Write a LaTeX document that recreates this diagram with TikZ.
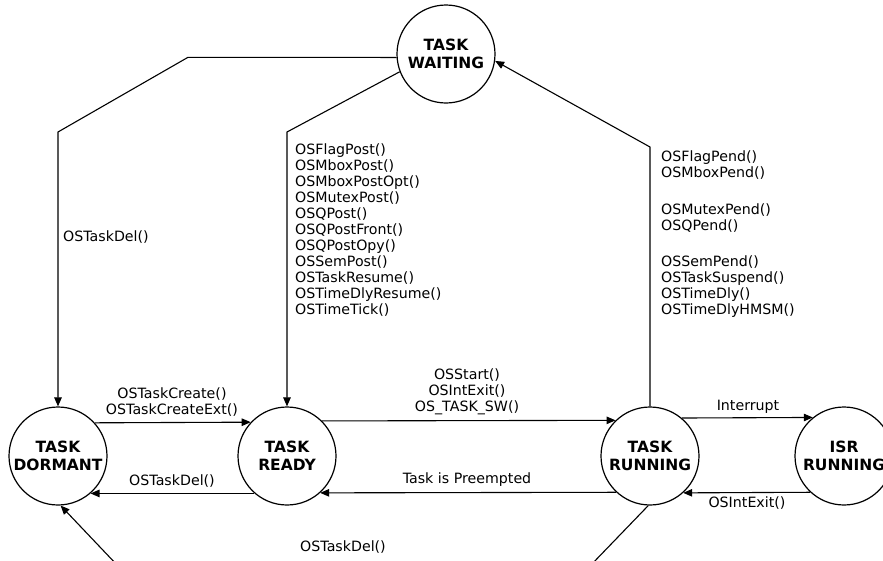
\documentclass[tikz,border=0pt]{standalone}
\usepackage{fontspec}
\setmainfont{DejaVu Sans}
\usetikzlibrary{arrows.meta}
\begin{document}
\begin{tikzpicture}[x=1pt,y=-1pt,
  state/.style={draw, circle, line width=1.2pt, minimum size=98pt, inner sep=0pt,
    align=center, font=\fontsize{15.5}{18}\selectfont\bfseries},
  arr/.style={line width=1.1pt, -{Triangle[length=9pt,width=7.5pt]}},
  lbl/.style={font=\fontsize{14.2}{16}\selectfont, inner sep=1pt},
  lst/.style={lbl, align=left, anchor=north west}]
\useasboundingbox (0,0) rectangle (883,560);
\clip (0,0) rectangle (883,560);
\fill[white] (0,0) rectangle (883,560);

% states
\node[state] (waiting) at (446,54) {TASK\\WAITING};
\node[state] (dormant) at (58,456) {TASK\\DORMANT};
\node[state] (ready)   at (287,456) {TASK\\READY};
\node[state] (running) at (650,456) {TASK\\RUNNING};
\node[state] (isr)     at (844,456) {ISR\\RUNNING};

% bends of the routed connectors
\coordinate (k1) at (188,57.3);
\coordinate (k2) at (58,132);
\coordinate (k3) at (287,132);
\coordinate (k4) at (650,147);
\coordinate (k5) at (590,566);
\coordinate (k6) at (118,566);

% waiting -> dormant / ready, running -> waiting
\draw[arr] (waiting.184) -- (k1) -- (k2) -- (dormant.north);
\draw[arr] (waiting.201) -- (k3) -- (ready.north);
\draw[arr] (running.north) -- (k4) -- (waiting.352);

% transitions along the bottom row
\draw[arr] (dormant.42.3) -- (ready.137.7);
\draw[arr] (ready.229) -- (dormant.311);
\draw[arr] (ready.45.6) -- (running.134.4);
\draw[arr] (running.227.3) -- (ready.312.7);
\draw[arr] (running.50.8) -- (isr.129.2);
\draw[arr] (isr.227.3) -- (running.312.7);
\draw[arr] (running.268) -- (k5) -- (k6) -- (dormant.273);

% labels
\node[lbl, anchor=west] (l1) at (62,237) {OSTaskDel()};
\node[lst] (l2) at (294,143) {OSFlagPost()\\OSMboxPost()\\OSMboxPostOpt()\\OSMutexPost()\\OSQPost()\\OSQPostFront()\\OSQPostOpy()\\OSSemPost()\\OSTaskResume()\\OSTimeDlyResume()\\OSTimeTick()};
\node[lst] (l3) at (660,150) {OSFlagPend()\\OSMboxPend()\\[21pt]OSMutexPend()\\OSQPend()\\[20pt]OSSemPend()\\OSTaskSuspend()\\OSTimeDly()\\OSTimeDlyHMSM()};
\node[lbl, align=center, anchor=south] (l4) at (172,418) {OSTaskCreate()\\OSTaskCreateExt()};
\node[lbl, anchor=south] (l5) at (172,489) {OSTaskDel()};
\node[lbl, align=center, anchor=south] (l6) at (467,416) {OSStart()\\OSIntExit()\\OS\_TASK\_SW()};
\node[lbl, anchor=south] (l7) at (467,488) {Task is Preempted};
\node[lbl, anchor=south] (l8) at (748,415) {Interrupt};
\node[lbl, anchor=north] (l9) at (747,496) {OSIntExit()};
\node[lbl] (l10) at (343,547) {OSTaskDel()};
\end{tikzpicture}
\end{document}
